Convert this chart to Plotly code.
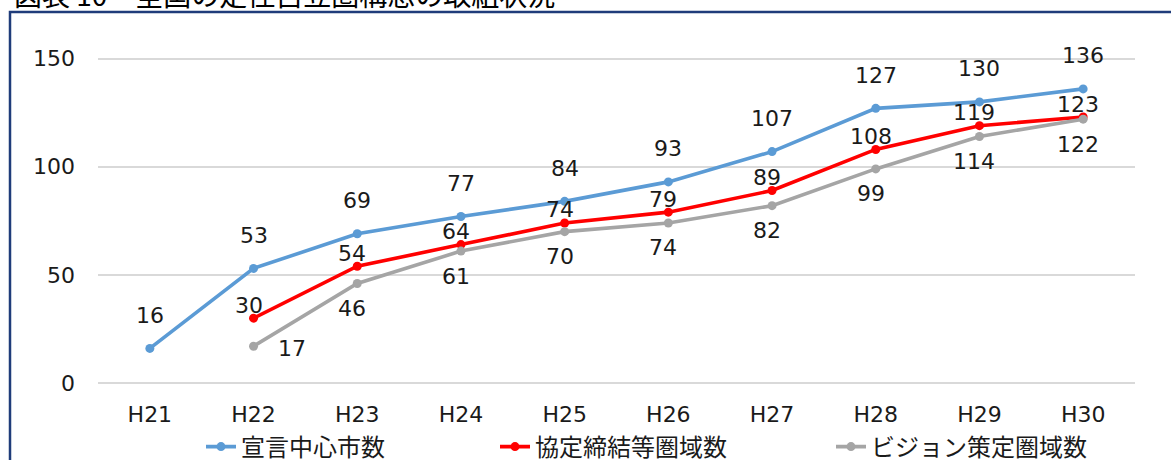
import plotly.graph_objects as go

# 年度（平成）
years = ["H21", "H22", "H23", "H24", "H25", "H26", "H27", "H28", "H29", "H30"]

# 各指標の累計件数（データなしは None）
sengen = [16, 53, 69, 77, 84, 93, 107, 127, 130, 136]
kyotei = [None, 30, 54, 64, 74, 79, 89, 108, 119, 123]
vision = [None, 17, 46, 61, 70, 74, 82, 99, 114, 122]

series_names = ["宣言中心市数", "協定締結等圏域数", "ビジョン策定圏域数"]
y_ticks = [0, 50, 100, 150]

title_text = "図表 10　全国の定住自立圏構想の取組状況"

# ---- styling ----
W, H = 1171, 460
ML, MR, MT, MB = 98, 36, 37, 77
PW, PH = W - ML - MR, H - MT - MB

NUM_FONT = "DejaVu Sans"
JP_FONT = "Noto Sans CJK JP"
TXT = "#1a1a1a"

colors = ["#5B9BD5", "#FF0000", "#A5A5A5"]
# label placement per series: (xshift, yshift) in px
label_shift = [(0, 33), (-5, 13), (-5, -25)]
# individual label overrides: (series index, point index) -> (xshift, yshift)
label_override = {(2, 1): (38, -2)}
legend_text_x = [243, 537, 873]


def px_to_paper_x(px):
    return (px - ML) / PW


def py_to_paper_y(py):
    return (H - MB - py) / PH


fig = go.Figure()
all_series = [sengen, kyotei, vision]
legend_ids = ["legend", "legend2", "legend3"]

for i, (name, vals) in enumerate(zip(series_names, all_series)):
    fig.add_trace(go.Scatter(
        x=years, y=vals, name=name, mode="lines+markers",
        line=dict(color=colors[i], width=3.6),
        marker=dict(color=colors[i], size=9),
        connectgaps=False,
        legend=legend_ids[i],
        hoverinfo="skip",
    ))

annotations = []
for i, vals in enumerate(all_series):
    for j, v in enumerate(vals):
        if v is None:
            continue
        xs, ys = label_override.get((i, j), label_shift[i])
        annotations.append(dict(
            x=years[j], y=v, xref="x", yref="y", text=str(v),
            showarrow=False, xshift=xs, yshift=ys,
            font=dict(family=NUM_FONT, size=22, color=TXT),
        ))

# heading (upper part runs off the top edge)
annotations.append(dict(
    x=px_to_paper_x(12), y=py_to_paper_y(-6), xref="paper", yref="paper",
    xanchor="left", yanchor="middle", showarrow=False, text=title_text,
    font=dict(family=JP_FONT, size=28, color="#000000"),
))

# frame around the chart area
shapes = [dict(
    type="rect", xref="paper", yref="paper", layer="above",
    x0=px_to_paper_x(10), x1=px_to_paper_x(1185),
    y0=py_to_paper_y(480), y1=py_to_paper_y(12),
    line=dict(color="#1F3C7A", width=2.5), fillcolor="rgba(0,0,0,0)",
)]

legend_common = dict(
    orientation="h", yanchor="middle", xanchor="left",
    y=py_to_paper_y(447), bgcolor="rgba(0,0,0,0)",
    font=dict(family=JP_FONT, size=24, color=TXT),
    itemwidth=30, borderwidth=0,
)
legends = {}
for k, lid in enumerate(legend_ids):
    legends[lid] = dict(legend_common, x=px_to_paper_x(legend_text_x[k] - 42))

fig.update_layout(
    width=W, height=H,
    margin=dict(l=ML, r=MR, t=MT, b=MB, autoexpand=False),
    paper_bgcolor="white", plot_bgcolor="white",
    showlegend=True,
    annotations=annotations,
    shapes=shapes,
    xaxis=dict(
        type="category", range=[-0.5, len(years) - 0.5],
        showgrid=False, zeroline=False, showline=False, ticks="",
        tickfont=dict(family=NUM_FONT, size=22, color=TXT),
        ticklabelstandoff=16,
    ),
    yaxis=dict(
        range=[0, 160], tickvals=y_ticks,
        showgrid=True, gridcolor="#D9D9D9", gridwidth=1.5,
        zeroline=True, zerolinecolor="#D9D9D9", zerolinewidth=1.5,
        showline=False, ticks="",
        tickfont=dict(family=NUM_FONT, size=22, color=TXT),
        ticklabelstandoff=22,
    ),
    **legends,
)

fig.write_html("out.html")
